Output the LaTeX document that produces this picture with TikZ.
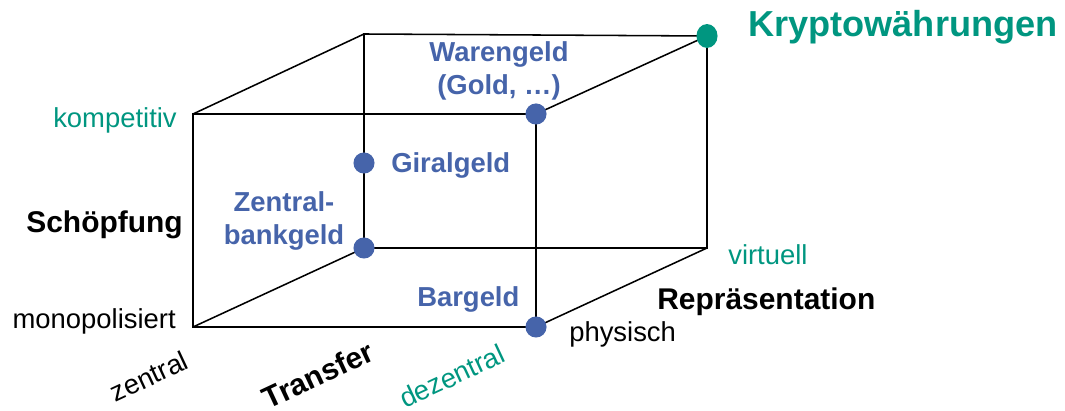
\documentclass[tikz,border=0pt]{standalone}
\usepackage{fontspec}
\setmainfont{Liberation Sans}
\usepackage{tikz}
\usetikzlibrary{shapes.geometric}
\definecolor{geldblau}{RGB}{70,100,170}
\definecolor{kryptogruen}{RGB}{0,150,128}
\tikzstyle{kante}=[line width=1.1pt, black]
\tikzstyle{punkt}=[shape=circle, fill=geldblau, inner sep=0pt, minimum size=15pt]
\tikzstyle{kpunkt}=[shape=ellipse, fill=kryptogruen, inner sep=0pt, minimum width=15pt, minimum height=17pt]
\tikzstyle{achse}=[inner sep=0pt, font=\fontsize{21.3}{25}\selectfont\bfseries]
\tikzstyle{wert}=[inner sep=0pt, font=\fontsize{19.5}{23.5}\selectfont]
\tikzstyle{geld}=[inner sep=0pt, align=center, text=geldblau, font=\fontsize{19.5}{23.5}\selectfont\bfseries]
\tikzstyle{krypto}=[inner sep=0pt, text=kryptogruen, font=\fontsize{25.7}{30}\selectfont\bfseries]

\begin{document}
\begin{tikzpicture}[x=0.025cm, y=-0.025cm]
            \useasboundingbox (0,0) rectangle (1065,411);
            % Wuerfel
            \coordinate (VOL) at (193,114);
            \coordinate (VOR) at (536,114);
            \coordinate (VUR) at (536,327);
            \coordinate (VUL) at (193,327);
            \coordinate (HOL) at (364,34);
            \coordinate (HOR) at (707,36);
            \coordinate (HUR) at (707,248);
            \coordinate (HUL) at (364,248);
            \draw[kante] (VOL) -- (VOR) -- (VUR) -- (VUL) -- cycle;
            \draw[kante] (HOL) -- (HOR) -- (HUR) -- (HUL) -- cycle;
            \draw[kante] (VOL) -- (HOL);
            \draw[kante] (VOR) -- (HOR);
            \draw[kante] (VUL) -- (HUL);
            \draw[kante] (VUR) -- (HUR);
            % Geldformen
            \node[punkt] (Ware) at (VOR) {}
            ;
            \node[punkt] (Giral) at (364,163) {}
            ;
            \node[punkt] (ZBank) at (HUL) {}
            ;
            \node[punkt] (Bar) at (VUR) {}
            ;
            \node[kpunkt] (Krypto) at (HOR) {}
            ;
            \node[geld] (WareText) at (499,71) {Warengeld\\(Gold, …)};
            \node[geld, anchor=base west] (GiralText) at (391,173) {Giralgeld};
            \node[geld] (ZBankText) at (284,221) {Zentral-\\bankgeld};
            \node[geld, anchor=base west] (BarText) at (417,307) {Bargeld};
            \node[krypto, anchor=base west] (KryptoText) at (748,37) {Kryptowährungen};
            % Achsen
            \node[achse, anchor=base east] (Schoepfung) at (183,233) {Schöpfung};
            \node[wert, text=kryptogruen, anchor=base east] (kompetitiv) at (177,128) {kompetitiv};
            \node[wert, anchor=base east] (monopol) at (176,329) {monopolisiert};
            \node[achse, anchor=base west] (Repr) at (657,310) {Repräsentation};
            \node[wert, text=kryptogruen, anchor=base west] (virtuell) at (728,265) {virtuell};
            \node[wert, anchor=base west] (physisch) at (569,342) {physisch};
            \node[achse, rotate=25] (Transfer) at (318,375) {Transfer};
            \node[wert, rotate=25] (zentral) at (149,376) {zentral};
            \node[wert, text=kryptogruen, rotate=25] (dezentral) at (452,376) {dezentral};
        \end{tikzpicture}
\end{document}
